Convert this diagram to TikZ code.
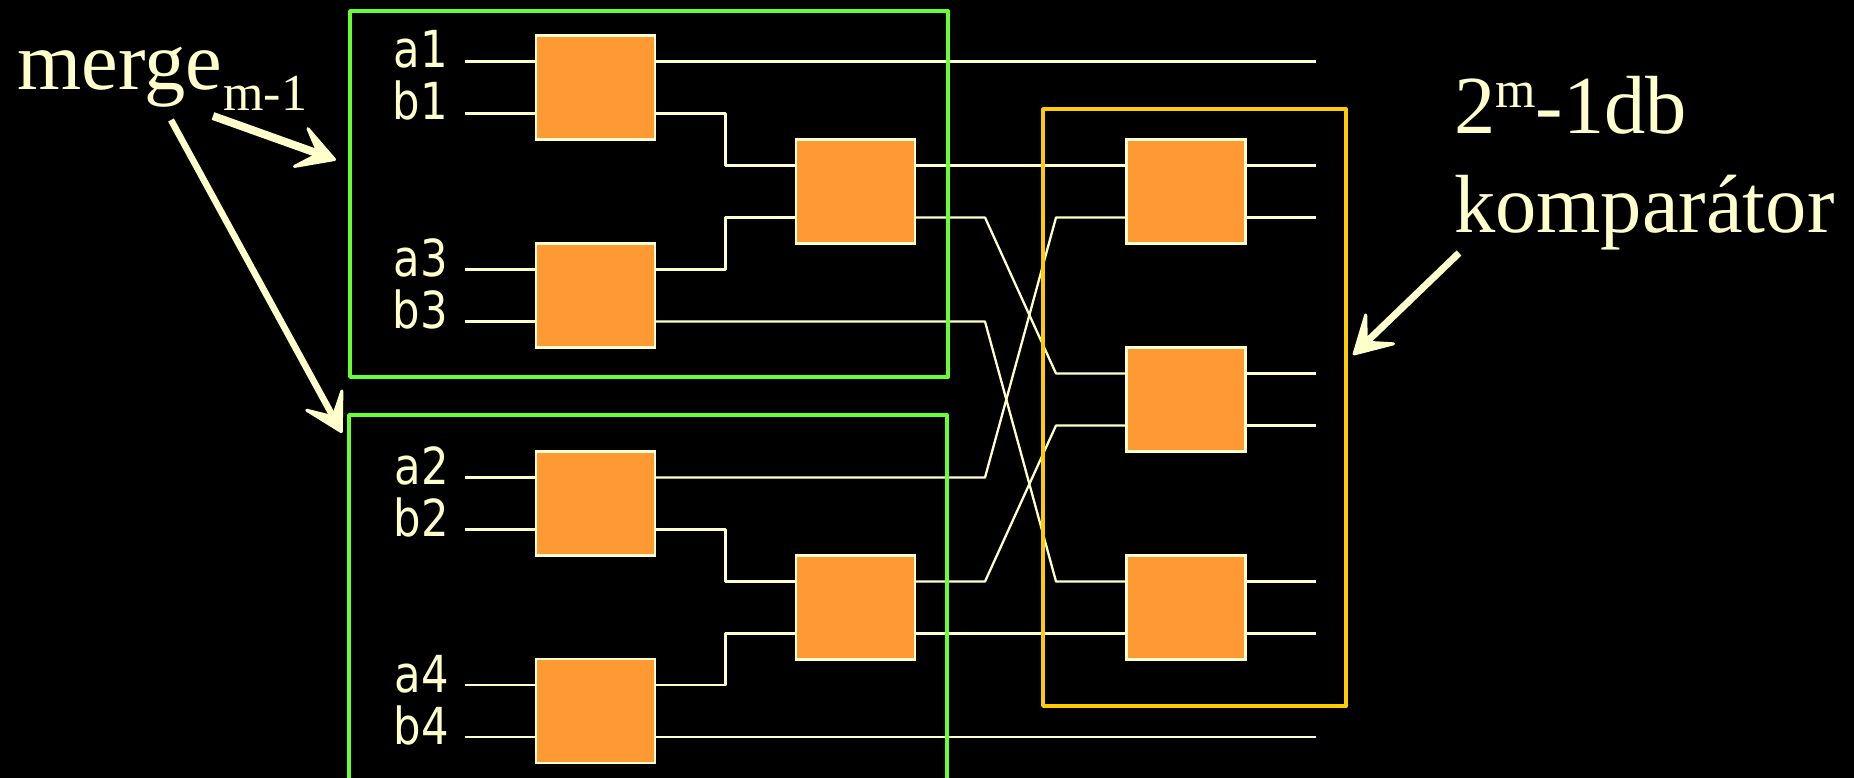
\documentclass[tikz,border=0pt]{standalone}
\usepackage{fontspec}
\setmainfont{Liberation Serif}
\newfontfamily\labelfont[FakeStretch=0.85]{DejaVu Sans}
\usetikzlibrary{arrows.meta}
\definecolor{cream}{HTML}{FFFFCC}
\definecolor{boxorange}{HTML}{FF9933}
\definecolor{framegreen}{HTML}{66FF33}
\definecolor{frameyellow}{HTML}{FFCC00}
\tikzset{
  comparator/.style={draw=cream,fill=boxorange,line width=2.2pt,minimum width=119pt,minimum height=104pt,inner sep=0pt,outer sep=0pt},
  wire/.style={draw=cream,line width=2.3pt,line join=round},
  greenframe/.style={draw=framegreen,line width=3.8pt,line join=round},
  yellowframe/.style={draw=frameyellow,line width=3.8pt,line join=round},
  pointer/.style={draw=cream,-{Stealth[length=46pt,width=52pt,inset=24pt,round,line width=3pt]}},
  pinlabel/.style={anchor=base east,inner sep=0pt,text=cream,font=\labelfont\fontsize{51}{51}\selectfont},
  bigtext/.style={anchor=base west,inner sep=0pt,text=cream,font=\fontsize{82.5}{82.5}\selectfont},
}
\newcommand{\comp}[3]{%
  \node[comparator] (#1) at (#2,#3) {};
  \coordinate (#1ia) at ([yshift=26pt]#1.west);
  \coordinate (#1ib) at ([yshift=-26pt]#1.west);
  \coordinate (#1oa) at ([yshift=26pt]#1.east);
  \coordinate (#1ob) at ([yshift=-26pt]#1.east);
}
\newcommand{\smalltxt}[2]{\raisebox{#1}{\fontsize{52}{52}\selectfont #2}}
\begin{document}
\begin{tikzpicture}[x=1pt,y=-1pt]
\useasboundingbox (0,0) rectangle (1854,778);
\clip (0,0) rectangle (1854,778);
\fill[black] (0,0) rectangle (1854,778);
% anchor lines
\coordinate (start) at (465,0);
\coordinate (finish) at (1316,0);
\coordinate (jog) at (725.5,0);
\coordinate (xa) at (985,0);
\coordinate (xb) at (1056,0);
% comparators
\comp{A}{595.5}{87.5}
\comp{B}{595.5}{295.5}
\comp{C}{595.5}{503.5}
\comp{D}{595.5}{711}
\comp{M}{855.5}{191.5}
\comp{N}{855.5}{607.5}
\comp{P}{1186}{191.5}
\comp{Q}{1186}{399.5}
\comp{R}{1186}{607.5}
% inputs
\foreach \b in {A,B,C,D}{
  \draw[wire] (\b ia -| start) -- (\b ia);
  \draw[wire] (\b ib -| start) -- (\b ib);
}
% outputs
\foreach \b in {P,Q,R}{
  \draw[wire] (\b oa) -- (\b oa -| finish);
  \draw[wire] (\b ob) -- (\b ob -| finish);
}
\draw[wire] (Aoa) -- (Aoa -| finish);
\draw[wire] (Dob) -- (Dob -| finish);
% first-stage jogs
\draw[wire] (Aob) -- (Aob -| jog) -- (Mia -| jog) -- (Mia);
\draw[wire] (Boa) -- (Boa -| jog) -- (Mib -| jog) -- (Mib);
\draw[wire] (Cob) -- (Cob -| jog) -- (Nia -| jog) -- (Nia);
\draw[wire] (Doa) -- (Doa -| jog) -- (Nib -| jog) -- (Nib);
% to the last stage
\draw[wire] (Moa) -- (Pia);
\draw[wire] (Nob) -- (Rib);
\draw[wire] (Mob) -- (Mob -| xa) -- (Qia -| xb) -- (Qia);
\draw[wire] (Bob) -- (Bob -| xa) -- (Ria -| xb) -- (Ria);
\draw[wire] (Coa) -- (Coa -| xa) -- (Pib -| xb) -- (Pib);
\draw[wire] (Noa) -- (Noa -| xa) -- (Qib -| xb) -- (Qib);
% frames
\draw[greenframe] (350,11) rectangle (948,377);
\draw[greenframe] (349,790) -- (349,415) -- (947,415) -- (947,790);
\draw[yellowframe] (1043,109) rectangle (1346,706);
% pin labels
\node[pinlabel] (la1) at (448,68) {a1};
\node[pinlabel] (lb1) at (448,120) {b1};
\node[pinlabel] (la3) at (448,276) {a3};
\node[pinlabel] (lb3) at (448,328) {b3};
\node[pinlabel] (la2) at (449,484) {a2};
\node[pinlabel] (lb2) at (449,536) {b2};
\node[pinlabel] (la4) at (449,692) {a4};
\node[pinlabel] (lb4) at (449,744) {b4};
% side texts
\node[bigtext] (merge) at (17,90) {merge\hspace{1.5pt}\smalltxt{-21pt}{m-1}};
\node[bigtext] (two) at (1454,134) {2\smalltxt{26pt}{m}-1db};
\node[bigtext] (komp) at (1454,232) {komparátor};
% pointers
\coordinate (ms1) at (213,116);
\coordinate (mt1) at (336,160);
\coordinate (ms2) at (171,120);
\coordinate (mt2) at (342,433);
\coordinate (ks) at (1459,253);
\coordinate (kt) at (1353,355);
\draw[pointer,line width=8pt] (ms1) -- (mt1);
\draw[pointer,line width=6.5pt] (ms2) -- (mt2);
\draw[pointer,line width=7pt] (ks) -- (kt);
\end{tikzpicture}
\end{document}
